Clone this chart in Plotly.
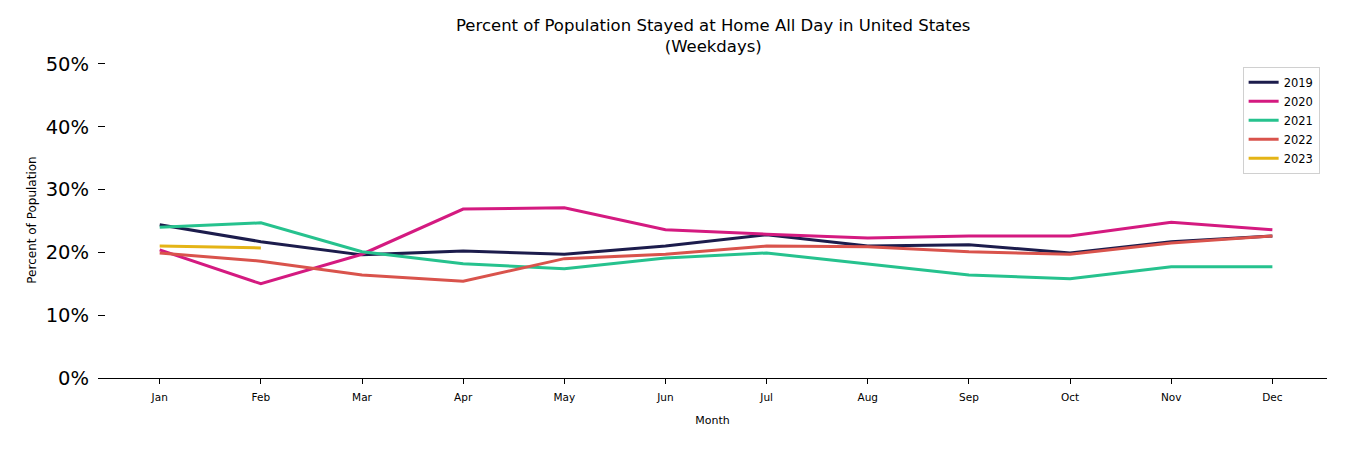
import plotly.graph_objects as go

months = ["Jan", "Feb", "Mar", "Apr", "May", "Jun", "Jul", "Aug", "Sep", "Oct", "Nov", "Dec"]

y2019 = [24.4, 21.7, 19.6, 20.2, 19.7, 21.0, 22.8, 21.0, 21.2, 19.9, 21.7, 22.6]
y2020 = [20.4, 15.0, 19.7, 26.9, 27.1, 23.6, 22.9, 22.3, 22.6, 22.6, 24.8, 23.6]
y2021 = [24.0, 24.7, 20.1, 18.2, 17.4, 19.1, 19.9, 18.2, 16.4, 15.8, 17.7, 17.7]
y2022 = [19.9, 18.6, 16.4, 15.4, 19.0, 19.7, 21.0, 20.9, 20.1, 19.7, 21.5, 22.6]
y2023 = [21.0, 20.7]

series = [
    ("2019", y2019, "#1c1c4c"),
    ("2020", y2020, "#d41a80"),
    ("2021", y2021, "#26c28e"),
    ("2022", y2022, "#d9534c"),
    ("2023", y2023, "#e4b416"),
]

yticks = [0, 10, 20, 30, 40, 50]
ytick_labels = ["0%", "10%", "20%", "30%", "40%", "50%"]

fig = go.Figure()
for name, vals, color in series:
    fig.add_trace(go.Scatter(
        x=list(range(len(vals))), y=vals, mode="lines", name=name,
        line=dict(color=color, width=3),
    ))

fig.add_annotation(
    text="Percent of Population Stayed at Home All Day in United States<br>(Weekdays)",
    xref="paper", yref="paper", x=0.5, y=1.0, xanchor="center", yanchor="bottom",
    yshift=4, showarrow=False, align="center",
    font=dict(size=16.5, family="DejaVu Sans", color="black"),
)

fig.update_layout(
    width=1334, height=434,
    margin=dict(l=90, r=15, t=54, b=64),
    paper_bgcolor="white", plot_bgcolor="white",
    font=dict(family="DejaVu Sans", color="black"),
    showlegend=True,
    legend=dict(
        x=0.994, y=0.985, xanchor="right", yanchor="top",
        bordercolor="#d0d0d0", borderwidth=1, bgcolor="white",
        font=dict(size=11.5, family="DejaVu Sans"),
    ),
    xaxis=dict(
        range=[-0.61, 11.54],
        tickmode="array", tickvals=list(range(12)), ticktext=months,
        ticks="outside", ticklen=5, tickcolor="black",
        ticklabelstandoff=4,
        showline=True, linecolor="black", linewidth=1,
        showgrid=False, zeroline=False,
        tickfont=dict(size=10.5),
        title=dict(text="Month", font=dict(size=11), standoff=14),
    ),
    yaxis=dict(
        range=[0, 50.3],
        tickmode="array", tickvals=yticks, ticktext=ytick_labels,
        ticks="inside", ticklen=7, tickcolor="black",
        ticklabelstandoff=8,
        showline=False, showgrid=False, zeroline=False,
        tickfont=dict(size=19.5),
        title=dict(text="Percent of Population", font=dict(size=12), standoff=6),
    ),
)

fig.write_html("out.html")
